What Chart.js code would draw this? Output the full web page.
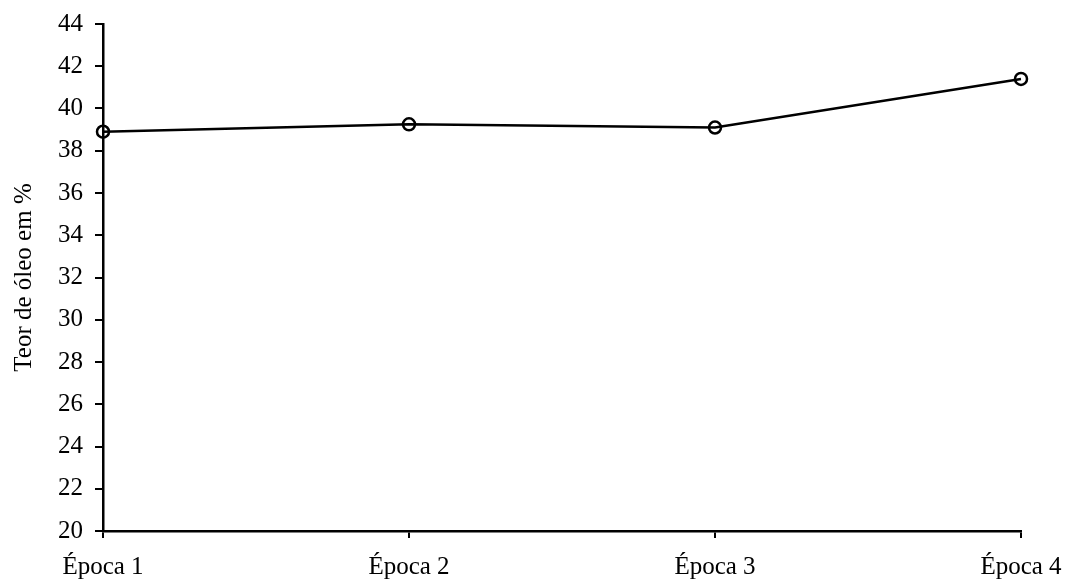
<!DOCTYPE html>
<html>
<head>
<meta charset="utf-8">
<script src="https://cdn.jsdelivr.net/npm/chart.js@4"></script>
<style>
html,body{margin:0;padding:0;background:#fff;}
#wrap{width:1069px;height:583px;}
</style>
</head>
<body>
<div id="wrap"><canvas id="c" width="1069" height="583"></canvas></div>
<script>
const categories = ['Época 1', 'Época 2', 'Época 3', 'Época 4'];
const oilContent = [38.9, 39.25, 39.1, 41.4];
const yMin = 20, yMax = 44, yStep = 2;
const yTitle = 'Teor de óleo em %';

const FONT = "'Liberation Serif', 'Times New Roman', serif";

new Chart(document.getElementById('c'), {
  type: 'line',
  data: {
    labels: categories,
    datasets: [{
      data: oilContent,
      borderColor: '#000',
      borderWidth: 2.5,
      pointStyle: 'circle',
      pointRadius: 6,
      pointBorderWidth: 2.5,
      pointBackgroundColor: 'rgba(0,0,0,0)',
      pointBorderColor: '#000',
      tension: 0
    }]
  },
  options: {
    responsive: false,
    animation: false,
    devicePixelRatio: 1,
    layout: { padding: { left: 9, top: 24, right: 48, bottom: 0 } },
    plugins: { legend: { display: false }, tooltip: { enabled: false } },
    scales: {
      x: {
        type: 'category',
        offset: false,
        border: { display: true, color: '#000', width: 2.5 },
        grid: { display: true, drawOnChartArea: false, drawTicks: true, tickLength: 7, color: '#000', lineWidth: 2 },
        ticks: { color: '#000', font: { family: FONT, size: 25 }, padding: 14, maxRotation: 0, autoSkip: false },
        afterFit: s => { s.height = 52; s.paddingLeft = 0; s.paddingRight = 0; }
      },
      y: {
        min: yMin, max: yMax,
        border: { display: true, color: '#000', width: 2.5 },
        grid: { display: true, drawOnChartArea: false, drawTicks: true, tickLength: 8, color: '#000', lineWidth: 2 },
        ticks: { stepSize: yStep, color: '#000', font: { family: FONT, size: 25 }, padding: 12 },
        title: { display: true, text: yTitle, color: '#000', font: { family: FONT, size: 25 }, padding: 0 },
        afterFit: s => { s.width = 94; s.paddingTop = 0; s.paddingBottom = 0; }
      }
    }
  }
});
</script>
</body>
</html>
